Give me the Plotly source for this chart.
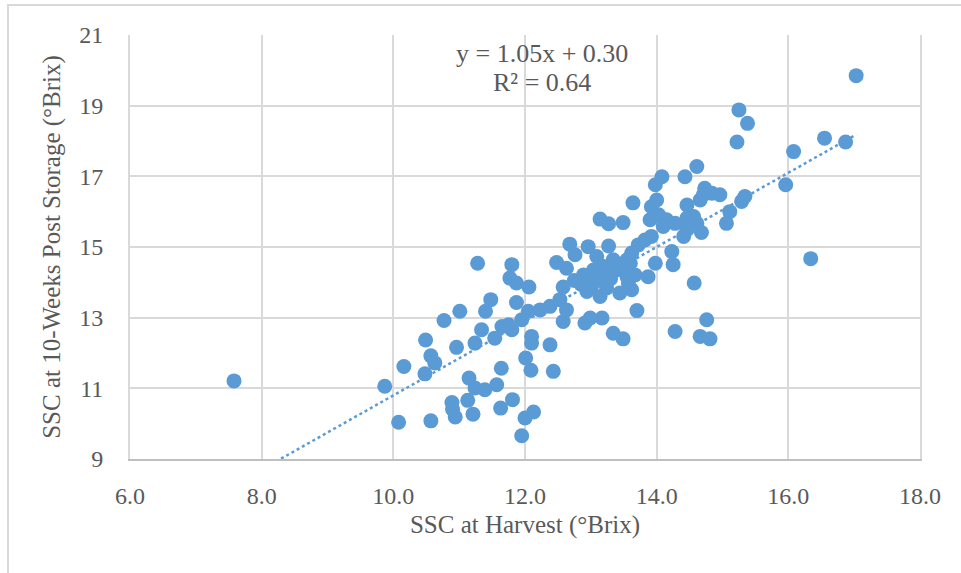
import plotly.graph_objects as go

# SSC at harvest (x) and after 10 weeks of storage (y), °Brix
ssc_harvest = [
    7.58, 9.87, 10.08, 10.57, 10.16, 10.48, 10.49, 10.57, 10.63, 10.77,
    10.96, 11.01, 10.89, 10.90, 10.94, 11.13, 11.21, 11.15, 11.24, 11.39,
    11.57, 11.63, 11.64, 11.81, 12.00, 12.13, 11.95, 12.01, 12.09, 12.43,
    11.24, 11.34, 11.54, 11.65, 11.75, 11.80, 11.95, 12.10, 12.10, 11.40,
    11.48, 11.87, 12.05, 11.28, 11.80, 11.77, 11.87, 12.06, 12.38, 12.23,
    12.38, 12.53, 12.63, 12.58, 12.58, 12.91, 12.99, 13.17, 13.34, 13.49,
    12.48, 12.63, 12.68, 12.76, 12.89, 12.94, 12.96, 13.09, 13.14, 13.27,
    13.49, 13.27, 13.34, 13.24, 13.44, 13.70, 13.64, 13.55, 13.62, 13.72,
    13.82, 13.92, 13.67, 13.87, 13.98, 13.62, 14.23, 14.25, 14.57, 14.28,
    14.66, 14.81, 14.76, 13.90, 14.03, 14.15, 14.28, 14.46, 14.56, 14.61,
    14.46, 14.41, 14.68, 14.10, 13.92, 14.00, 14.46, 14.66, 14.71, 14.84,
    14.96, 14.73, 13.98, 14.08, 14.43, 14.61, 15.06, 15.11, 15.29, 15.34,
    15.22, 15.25, 15.38, 16.08, 15.96, 16.34, 16.55, 16.87, 17.03,
    13.19, 13.55, 13.60, 13.04, 13.39, 13.14, 13.57,
    13.05, 13.30, 13.45, 12.85, 13.20, 12.75, 13.00,
]
ssc_storage = [
    11.21, 11.06, 10.04, 10.08, 11.62, 11.41, 12.37, 11.92, 11.72, 12.92,
    12.16, 13.18, 10.60, 10.40, 10.19, 10.66, 10.27, 11.29, 11.01, 10.96,
    11.10, 10.44, 11.57, 10.68, 10.16, 10.33, 9.66, 11.86, 11.51, 11.48,
    12.28, 12.66, 12.42, 12.75, 12.80, 12.66, 12.94, 12.47, 12.28, 13.18,
    13.51, 13.43, 13.18, 14.54, 14.50, 14.12, 13.98, 13.87, 12.23, 13.22,
    13.32, 13.51, 13.22, 12.89, 13.87, 12.85, 12.99, 12.99, 12.56, 12.40,
    14.56, 14.40, 15.08, 14.78, 14.21, 13.74, 15.01, 14.73, 15.79, 15.66,
    15.69, 15.03, 14.64, 13.84, 13.70, 13.20, 16.25, 14.64, 14.83, 15.06,
    15.20, 15.30, 14.21, 14.16, 14.54, 13.79, 14.87, 14.50, 13.98, 12.61,
    12.47, 12.40, 12.94, 15.77, 15.91, 15.77, 15.67, 15.82, 15.86, 15.67,
    15.49, 15.30, 15.41, 15.58, 16.14, 16.33, 16.19, 16.33, 16.48, 16.52,
    16.48, 16.66, 16.76, 16.99, 16.99, 17.28, 15.67, 16.00, 16.29, 16.43,
    17.97, 18.88, 18.50, 17.70, 16.76, 14.67, 18.08, 17.97, 19.85,
    14.16, 14.16, 14.54, 14.35, 14.35, 13.60, 13.98,
    14.00, 14.10, 14.45, 13.95, 14.45, 14.05, 13.85,
]

# Linear trendline as labelled on the chart
slope = 1.05
intercept = 0.30
r_squared = 0.64

x_ticks = [6, 8, 10, 12, 14, 16, 18]
y_ticks = [9, 11, 13, 15, 17, 19, 21]

BLUE = "#5B9BD5"
GRID = "#D9D9D9"
TEXT = "#595959"
FONT = "Liberation Serif, Times New Roman, serif"

trend_x = [min(ssc_harvest), max(ssc_harvest)]
trend_y = [slope * v + intercept for v in trend_x]

fig = go.Figure()
fig.add_trace(go.Scatter(
    x=trend_x, y=trend_y, mode="lines",
    line=dict(color=BLUE, width=2.5, dash="dot"),
    hoverinfo="skip", showlegend=False,
))
fig.add_trace(go.Scatter(
    x=ssc_harvest, y=ssc_storage, mode="markers",
    marker=dict(color=BLUE, size=15, line=dict(width=0)),
    showlegend=False, cliponaxis=False,
))

L, R, T, B = 130, 41, 35, 114
W, H = 961, 573
pw, ph = W - L - R, H - T - B

fig.update_layout(
    width=W, height=H,
    margin=dict(l=L, r=R, t=T, b=B, pad=0),
    paper_bgcolor="white", plot_bgcolor="white",
    font=dict(family=FONT, color=TEXT, size=24),
    xaxis=dict(
        range=[6, 18], tickvals=x_ticks, tickformat=".1f",
        showgrid=True, gridcolor=GRID, gridwidth=1.75,
        zeroline=False, showline=True, linecolor="#BFBFBF", linewidth=2,
        ticks="outside", ticklen=14, tickcolor="rgba(0,0,0,0)",
        tickfont=dict(size=24, family=FONT, color=TEXT),
        title=dict(text="SSC at Harvest (°Brix)", standoff=8,
                   font=dict(size=25, family=FONT, color=TEXT)),
    ),
    yaxis=dict(
        range=[9, 21], tickvals=y_ticks,
        showgrid=True, gridcolor=GRID, gridwidth=1.75,
        zeroline=False, showline=True, mirror=True, linecolor=GRID, linewidth=1.75,
        ticks="outside", ticklen=20, tickcolor="rgba(0,0,0,0)",
        tickfont=dict(size=24, family=FONT, color=TEXT),
        title=dict(text="SSC at 10-Weeks Post Storage (°Brix)", standoff=12,
                   font=dict(size=25, family=FONT, color=TEXT)),
    ),
    annotations=[
        dict(text=f"y = {slope:.2f}x + {intercept:.2f}", xref="paper", yref="paper",
             x=(541.7 - L) / pw, y=(T + ph - 53) / ph, xanchor="center", yanchor="middle",
             showarrow=False, font=dict(size=26, family=FONT, color=TEXT)),
        dict(text=f"R² = {r_squared:.2f}", xref="paper", yref="paper",
             x=(541.7 - L) / pw, y=(T + ph - 83) / ph, xanchor="center", yanchor="middle",
             showarrow=False, font=dict(size=26, family=FONT, color=TEXT)),
    ],
    shapes=[
        dict(type="rect", xref="paper", yref="paper", layer="below",
             x0=(8 - L) / pw, x1=(W + 5 - L) / pw,
             y0=(T + ph - (H + 5)) / ph, y1=(T + ph - 5) / ph,
             line=dict(color=GRID, width=2), fillcolor="rgba(0,0,0,0)"),
    ],
)

fig.write_html("out.html")
